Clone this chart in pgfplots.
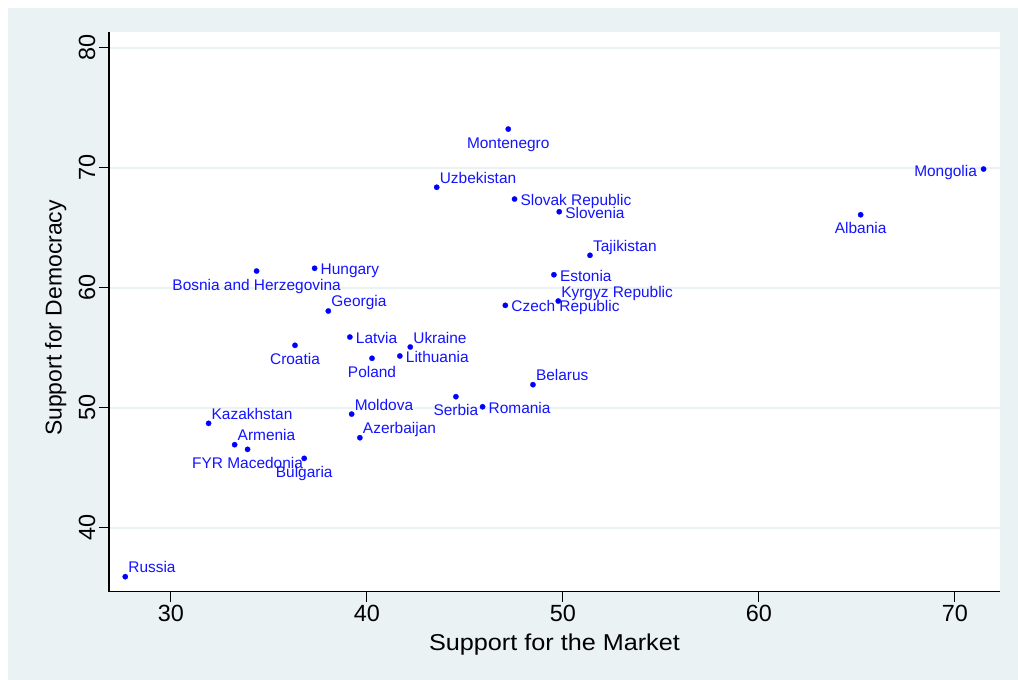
\documentclass[border=0pt]{standalone}
\usepackage{fontspec}
\setmainfont{Liberation Sans}
\usepackage{pgfplots}
\pgfplotsset{compat=1.18}
\definecolor{bgc}{RGB}{234,242,243}
\definecolor{mk}{RGB}{0,0,255}
\definecolor{lb}{RGB}{20,20,255}
\pgfplotsset{
  cty/.style={only marks, mark=*, mark size=2.7bp,
    mark options={fill=mk, draw=mk, line width=0.2bp},
    point meta=explicit symbolic, nodes near coords,
    every node near coord/.append style={font=\fontsize{15.5}{18}\selectfont, text=lb, inner sep=0pt}},
  ne/.style={cty, every node near coord/.append style={anchor=base west, xshift=3bp, yshift=4bp}},
  ea/.style={cty, every node near coord/.append style={anchor=base west, xshift=6bp, yshift=-6.4bp}},
  we/.style={cty, every node near coord/.append style={anchor=base east, xshift=-6.5bp, yshift=-7bp}},
  so/.style={cty, every node near coord/.append style={anchor=base, yshift=-19bp}},
}
\begin{document}
\begin{tikzpicture}[x=1bp,y=1bp]
\fill[white] (0,0) rectangle (1018,680);
\fill[bgc] (8,0) rectangle (1018,672);
\begin{axis}[
  at={(109bp,88.3bp)}, anchor=south west,
  scale only axis, width=891bp, height=559.7bp,
  xmin=26.84, xmax=72.30, ymin=34.67, ymax=81.31,
  axis x line*=bottom, axis y line*=left,
  axis line style={black, line width=1.2bp, -},
  axis background/.style={fill=white},
  xtick={30,40,50,60,70}, ytick={40,50,60,70,80},
  tick align=outside, major tick length=10bp,
  tick style={black, line width=1bp},
  ymajorgrids, major grid style={bgc, line width=2bp},
  /pgf/number format/assume math mode=true,
  ticklabel style={font=\fontsize{23.5}{28}\selectfont},
  yticklabel style={rotate=90, anchor=south},
  every axis x label/.style={at={(axis description cs:0.5,-0.1042)}, anchor=base},
  every axis y label/.style={at={(axis description cs:-0.0531,0.489)}, rotate=90, anchor=base},
  xlabel={\scalebox{1.1}[1]{Support for the Market}},
  ylabel={Support for Democracy},
  label style={font=\fontsize{23}{27}\selectfont},
  clip=false,
]
\addplot[ne] coordinates {
(27.67,35.92) [Russia]
(31.92,48.70) [Kazakhstan]
(33.25,46.92) [Armenia]
(39.22,49.47) [Moldova]
(39.64,47.50) [Azerbaijan]
(38.03,58.06) [Georgia]
(42.21,55.06) [Ukraine]
(48.47,51.92) [Belarus]
(43.56,68.37) [Uzbekistan]
(51.38,62.70) [Tajikistan]
(49.76,58.89) [Kyrgyz Republic]
};
\addplot[ea] coordinates {
(37.33,61.62) [Hungary]
(39.13,55.89) [Latvia]
(41.68,54.31) [Lithuania]
(45.90,50.08) [Romania]
(47.53,67.39) [Slovak Republic]
(49.81,66.33) [Slovenia]
(49.54,61.08) [Estonia]
(47.06,58.53) [Czech Republic]
};
\addplot[we] coordinates {
(71.46,69.89) [Mongolia]
};
\addplot[so] coordinates {
(47.21,73.22) [Montenegro]
(65.19,66.08) [Albania]
(34.37,61.39) [Bosnia and Herzegovina]
(36.33,55.20) [Croatia]
(40.26,54.12) [Poland]
(33.91,46.53) [FYR Macedonia]
(36.80,45.78) [Bulgaria]
(44.54,50.92) [Serbia]
};
\end{axis}
\end{tikzpicture}
\end{document}
